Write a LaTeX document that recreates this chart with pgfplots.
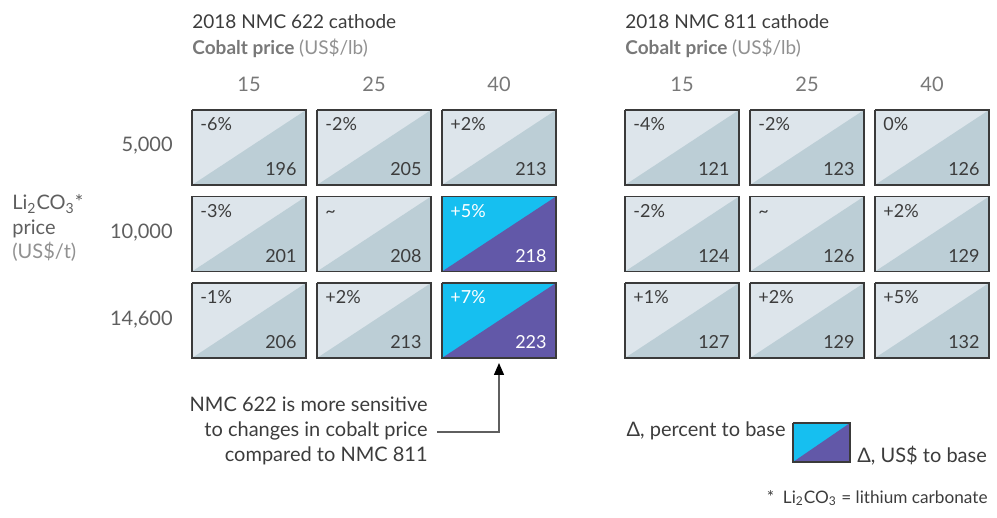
\documentclass[border=0pt]{standalone}
\usepackage{fontspec}
\setmainfont{Lato}
\usepackage{pgfplots}
\pgfplotsset{compat=1.18}
\usetikzlibrary{arrows.meta}

\definecolor{lightA}{RGB}{221,229,235}
\definecolor{lightB}{RGB}{188,206,214}
\definecolor{hiA}{RGB}{22,191,240}
\definecolor{hiB}{RGB}{98,88,168}
\definecolor{edge}{RGB}{58,58,58}
\definecolor{txt}{RGB}{60,60,60}
\definecolor{grayA}{RGB}{120,120,120}
\definecolor{grayB}{RGB}{145,145,145}
\definecolor{rowgray}{RGB}{95,95,95}

\tikzset{tiletxt/.style={font=\fontsize{9}{10}\selectfont, inner sep=0pt},
  head/.style={font=\fontsize{9.5}{11}\selectfont, inner sep=0pt}}

% one tile: x-left, y-top (pixels), percent, US$, upper fill, lower fill, text colour
\newcommand\tile[7]{%
  \pgfmathsetmacro\xa{#1}\pgfmathsetmacro\xb{#1+114}%
  \pgfmathsetmacro\ya{#2}\pgfmathsetmacro\yb{#2+75}%
  \pgfmathsetmacro\px{#1+8}\pgfmathsetmacro\py{#2+21}%
  \pgfmathsetmacro\ux{#1+105}\pgfmathsetmacro\uy{#2+66}%
  \edef\tmp{%
    \noexpand\addplot[fill=#5, draw=none] coordinates {(\xa,\ya) (\xb,\ya) (\xb,\yb) (\xa,\yb)};
    \noexpand\addplot[fill=#6, draw=none] coordinates {(\xb,\ya) (\xb,\yb) (\xa,\yb)};
    \noexpand\addplot[draw=edge, line width=0.7pt] coordinates {(\xa,\ya) (\xb,\ya) (\xb,\yb) (\xa,\yb) (\xa,\ya)};
    \noexpand\node[tiletxt, anchor=base west, text=#7] at (axis cs:\px,\py) {\unexpanded{#3}};
    \noexpand\node[tiletxt, anchor=base east, text=#7] at (axis cs:\ux,\uy) {#4};
  }\tmp}

\begin{document}
\begin{tikzpicture}
\begin{axis}[
    width=498.5pt, height=259pt, scale only axis,
    xmin=0, xmax=997, ymin=0, ymax=518, y dir=reverse,
    hide axis, clip=false,
    every node/.append style={font=\fontsize{9}{10}\selectfont}
  ]
  \addplot[draw=none] coordinates {(0,0) (997,518)};

  % NMC 622
  \tile{192}{110}{-6\%}{196}{lightA}{lightB}{txt}
  \tile{317}{110}{-2\%}{205}{lightA}{lightB}{txt}
  \tile{442}{110}{+2\%}{213}{lightA}{lightB}{txt}
  \tile{192}{196.5}{-3\%}{201}{lightA}{lightB}{txt}
  \tile{317}{196.5}{\textasciitilde}{208}{lightA}{lightB}{txt}
  \tile{442}{196.5}{+5\%}{218}{hiA}{hiB}{white}
  \tile{192}{283}{-1\%}{206}{lightA}{lightB}{txt}
  \tile{317}{283}{+2\%}{213}{lightA}{lightB}{txt}
  \tile{442}{283}{+7\%}{223}{hiA}{hiB}{white}
  % NMC 811
  \tile{625}{110}{-4\%}{121}{lightA}{lightB}{txt}
  \tile{750}{110}{-2\%}{123}{lightA}{lightB}{txt}
  \tile{875}{110}{0\%}{126}{lightA}{lightB}{txt}
  \tile{625}{196.5}{-2\%}{124}{lightA}{lightB}{txt}
  \tile{750}{196.5}{\textasciitilde}{126}{lightA}{lightB}{txt}
  \tile{875}{196.5}{+2\%}{129}{lightA}{lightB}{txt}
  \tile{625}{283}{+1\%}{127}{lightA}{lightB}{txt}
  \tile{750}{283}{+2\%}{129}{lightA}{lightB}{txt}
  \tile{875}{283}{+5\%}{132}{lightA}{lightB}{txt}

  % headers
  \node[head, anchor=base west, text=txt] at (axis cs:192,29) {2018 NMC 622 cathode};
  \node[head, anchor=base west] at (axis cs:192,55) {\textcolor{grayA}{\bfseries Cobalt price} \textcolor{grayB}{(US\$/lb)}};
  \node[head, anchor=base west, text=txt] at (axis cs:625,29) {2018 NMC 811 cathode};
  \node[head, anchor=base west] at (axis cs:625,55) {\textcolor{grayA}{\bfseries Cobalt price} \textcolor{grayB}{(US\$/lb)}};
  \node[anchor=base, inner sep=0pt, text=grayA] at (axis cs:249,92) {15};
  \node[anchor=base, inner sep=0pt, text=grayA] at (axis cs:374,92) {25};
  \node[anchor=base, inner sep=0pt, text=grayA] at (axis cs:499,92) {40};
  \node[anchor=base, inner sep=0pt, text=grayA] at (axis cs:682,92) {15};
  \node[anchor=base, inner sep=0pt, text=grayA] at (axis cs:807,92) {25};
  \node[anchor=base, inner sep=0pt, text=grayA] at (axis cs:932,92) {40};

  % row labels
  \node[anchor=base east, inner sep=0pt, text=rowgray] at (axis cs:173,152) {5,000};
  \node[anchor=base east, inner sep=0pt, text=rowgray] at (axis cs:173,239) {10,000};
  \node[anchor=base east, inner sep=0pt, text=rowgray] at (axis cs:173,326) {14,600};
  \node[anchor=base west, inner sep=0pt, text=rowgray] at (axis cs:12,210) {Li\textsubscript{2}CO\textsubscript{3}*};
  \node[anchor=base west, inner sep=0pt, text=rowgray] at (axis cs:12,235) {price};
  \node[anchor=base west, inner sep=0pt, text=grayB] at (axis cs:12,259) {(US\$/t)};

  % annotation
  \node[anchor=base east, inner sep=0pt, text=txt] at (axis cs:428,412) {NMC 622 is more sensitive};
  \node[anchor=base east, inner sep=0pt, text=txt] at (axis cs:428,437) {to changes in cobalt price};
  \node[anchor=base east, inner sep=0pt, text=txt] at (axis cs:428,462) {compared to NMC 811};
  \addplot[color=rowgray, line width=0.7pt, -{Triangle[length=6pt,width=5pt,color=black]}]
    coordinates {(437,432) (499,432) (499,363)};

  % legend
  \addplot[fill=hiA, draw=none] coordinates {(793,423) (850,423) (850,462) (793,462)};
  \addplot[fill=hiB, draw=none] coordinates {(850,423) (850,462) (793,462)};
  \addplot[draw=edge, line width=0.7pt] coordinates {(793,423) (850,423) (850,462) (793,462) (793,423)};
  \node[anchor=base east, inner sep=0pt, text=txt] at (axis cs:786,437) {Δ, percent to base};
  \node[anchor=base west, inner sep=0pt, text=txt] at (axis cs:857,463) {Δ, US\$ to base};
  \node[anchor=base east, inner sep=0pt, text=txt, font=\fontsize{8.6}{10}\selectfont] at (axis cs:988,503) {*\ \ Li\textsubscript{2}CO\textsubscript{3} = lithium carbonate};
\end{axis}
\end{tikzpicture}
\end{document}
